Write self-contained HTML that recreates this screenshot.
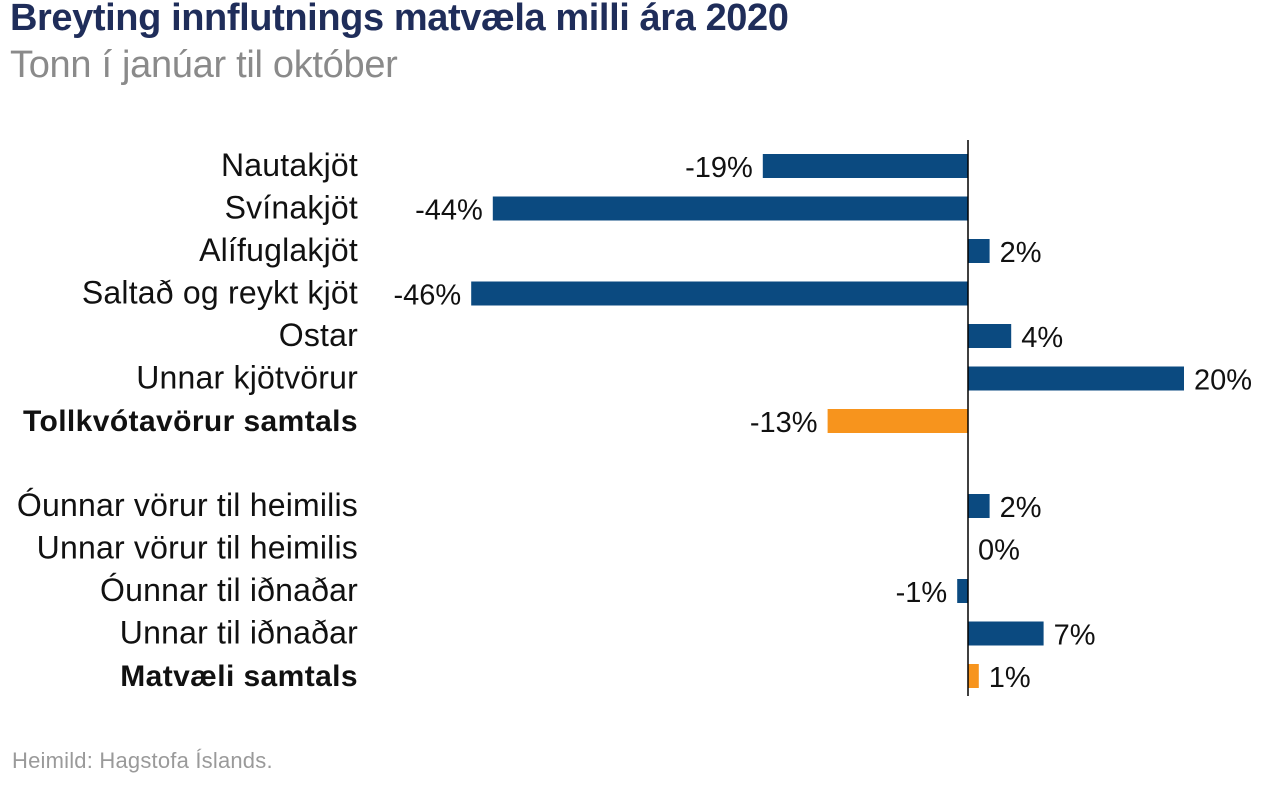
<!DOCTYPE html>
<html><head><meta charset="utf-8"><style>
body{margin:0;background:#fff;font-family:"Liberation Sans",sans-serif;}
#wrap{position:relative;width:1268px;height:788px;overflow:hidden;}
.title{position:absolute;left:10px;top:-3px;font-size:38px;font-weight:bold;color:#1f2d5a;letter-spacing:-0.4px;}
.sub{position:absolute;left:10px;top:44px;font-size:38px;color:#8a8a8a;letter-spacing:-0.3px;}
.src{position:absolute;left:12px;top:748px;font-size:22px;color:#9a9a9a;letter-spacing:0.2px;}
</style></head><body>
<div id="wrap">
<div class="title">Breyting innflutnings matvæla milli ára 2020</div>
<div class="sub">Tonn í janúar til október</div>
<svg id="chart" width="1268" height="788" style="position:absolute;left:0;top:0"></svg>
<div class="src">Heimild: Hagstofa Íslands.</div>
</div>
<script>
const categories=["Nautakjöt","Svínakjöt","Alífuglakjöt","Saltað og reykt kjöt","Ostar","Unnar kjötvörur","Tollkvótavörur samtals","Óunnar vörur til heimilis","Unnar vörur til heimilis","Óunnar til iðnaðar","Unnar til iðnaðar","Matvæli samtals"];
const values=[-19,-44,2,-46,4,20,-13,2,0,-1,7,1];
const rowSlots=[0,1,2,3,4,5,6,8,9,10,11,12];
const totals=[false,false,false,false,false,false,true,false,false,false,false,true];
const NS="http://www.w3.org/2000/svg";
const svg=document.getElementById('chart');
const x0=968, pxPer=10.8;
function xs(v){return x0+v*pxPer;}
function ys(slot){return 166+slot*42.5;}
function mk(t,a){const e=document.createElementNS(NS,t);for(const k in a)e.setAttribute(k,a[k]);svg.appendChild(e);return e;}
values.forEach((v,i)=>{
  const y=ys(rowSlots[i]);
  const col=totals[i]?"#f7941d":"#0b4a80";
  const x1=Math.min(xs(v),x0),w=Math.abs(xs(v)-x0);
  const r=mk('rect',{x:x1,y:y-12,width:w,height:24,fill:col});
  
  
  const lab=mk('text',{x:358,y:y+10,'text-anchor':'end','font-size':totals[i]?30:32,fill:'#111','font-weight':totals[i]?'bold':'normal','letter-spacing':totals[i]?0.4:0.2});
  lab.textContent=categories[i];
  
  
  const neg=v<0;
  const vl=mk('text',{x:neg?xs(v)-10:xs(v)+10,y:y+11,'text-anchor':neg?'end':'start','font-size':29,fill:'#111'});
  vl.textContent=v+"%";
  
  
});
const ax=mk('line',{x1:x0,x2:x0,y1:140,y2:696,stroke:'#000','stroke-width':1.5});


</script>
</body></html>
